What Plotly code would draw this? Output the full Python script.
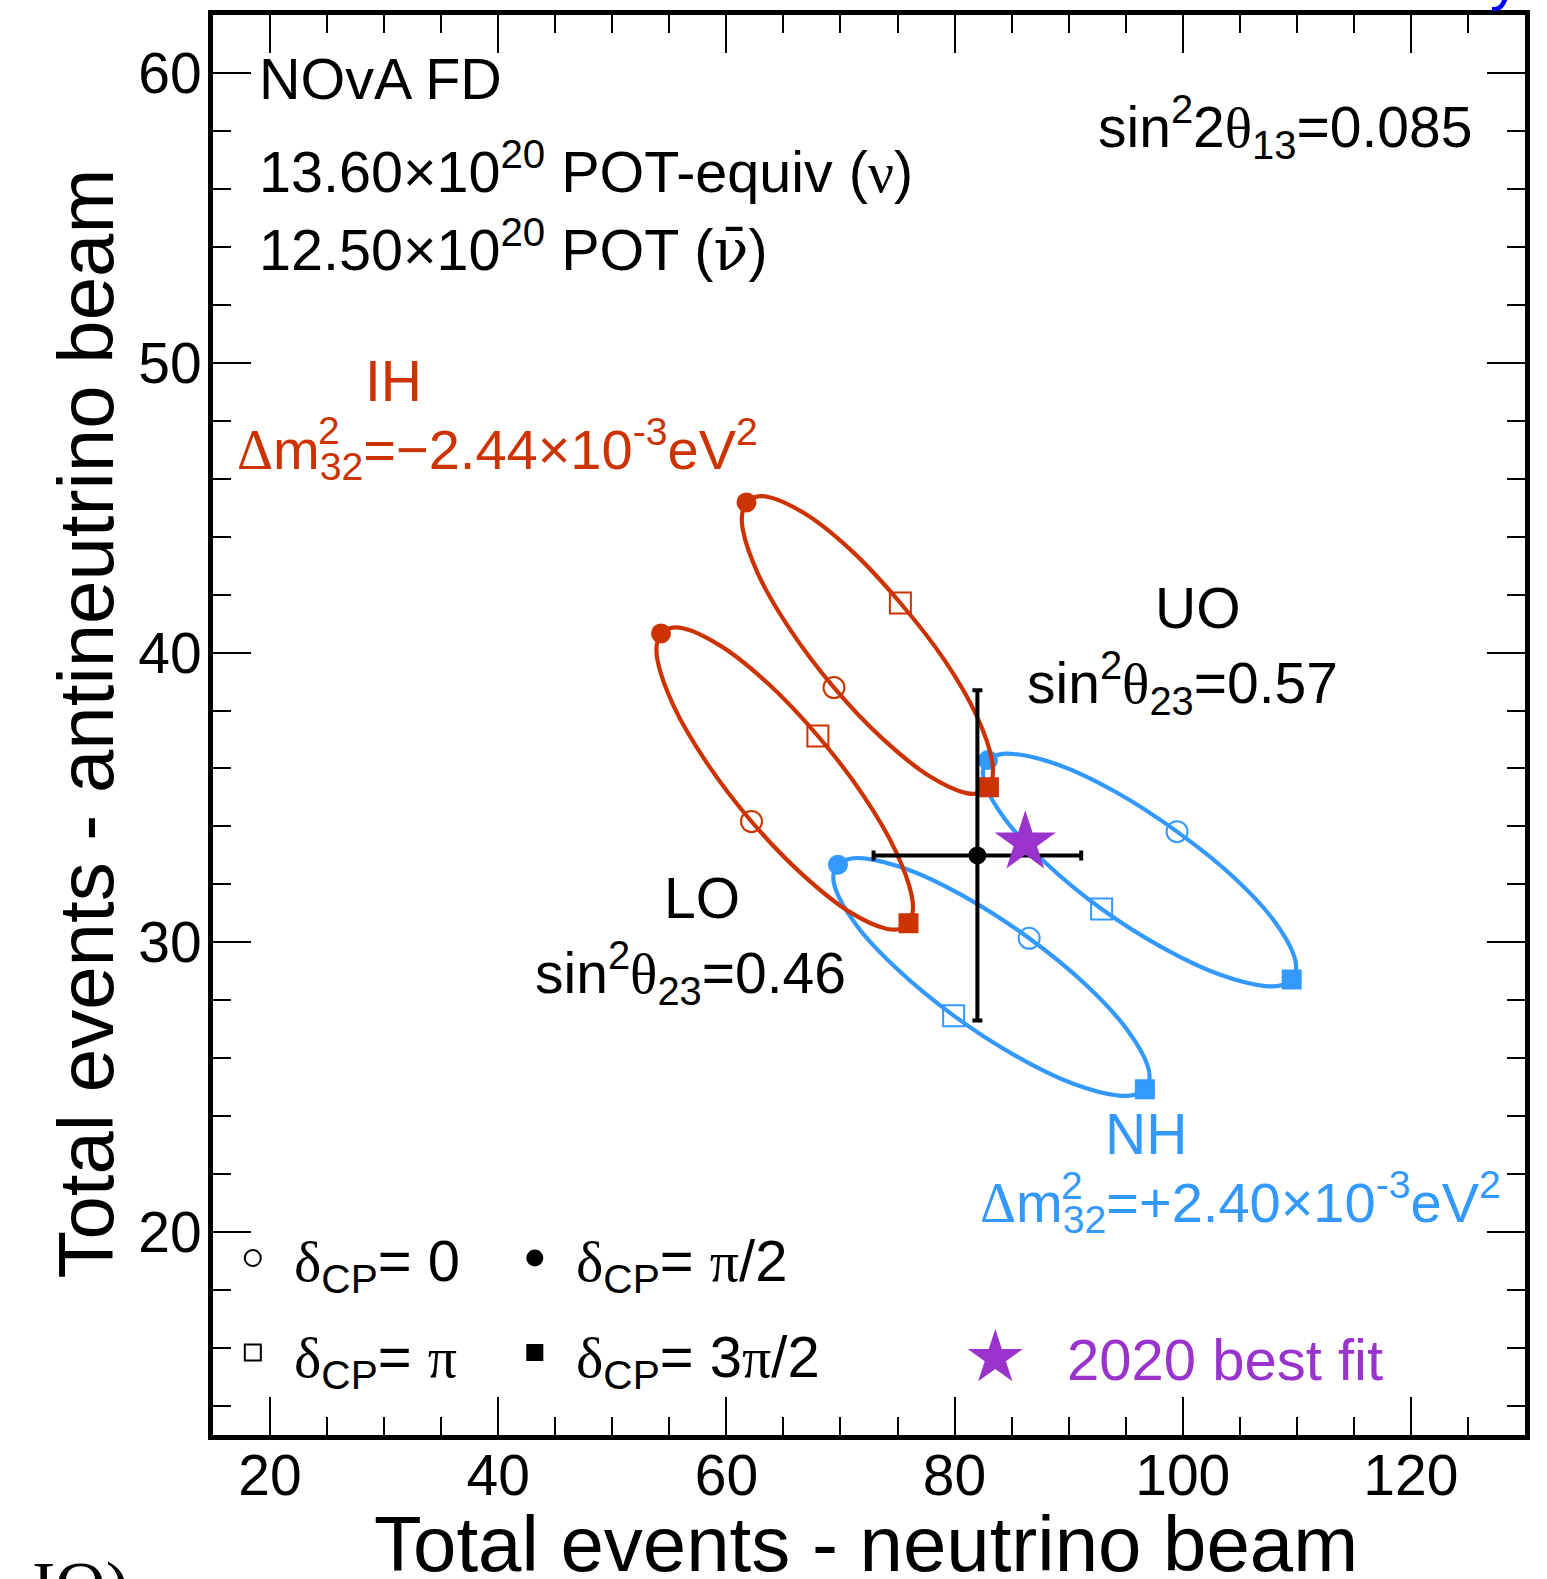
import plotly.graph_objects as go

# ---------------- data ----------------
# delta_CP values at which markers are drawn (order used in all *_pts lists)
delta_cp = ["0", "π/2", "π", "3π/2"]

# NH, lower octant (sin^2 th23 = 0.46) ellipse, traced round from delta_CP = 0
nh_lo_curve_x = [86.54, 81.14, 76.06, 72.07, 70.68, 69.78, 69.39, 69.53, 71.38, 75.02, 79.92,
                 85.32, 90.40, 94.39, 95.78, 96.68, 97.07, 96.93, 95.08, 91.44, 86.54]
nh_lo_curve_y = [30.14, 31.52, 32.49, 32.90, 32.87, 32.68, 32.35, 31.88, 30.60, 29.06, 27.47,
                 26.09, 25.12, 24.71, 24.74, 24.93, 25.26, 25.74, 27.01, 28.56, 30.14]
nh_lo_pts_x = [86.54, 69.78, 79.92, 96.68]
nh_lo_pts_y = [30.14, 32.68, 27.47, 24.93]

# NH, upper octant (sin^2 th23 = 0.57) ellipse
nh_uo_curve_x = [99.50, 94.17, 89.14, 85.18, 83.80, 82.92, 82.51, 82.65, 84.46, 88.06, 92.89,
                 98.26, 103.29, 107.25, 108.63, 109.55, 109.92, 109.78, 107.97, 104.37, 99.50]
nh_uo_curve_y = [33.82, 35.18, 36.12, 36.50, 36.47, 36.29, 35.95, 35.48, 34.23, 32.71, 31.15,
                 29.81, 28.88, 28.49, 28.52, 28.72, 29.04, 29.51, 30.76, 32.28, 33.82]
nh_uo_pts_x = [99.50, 82.92, 92.89, 109.55]
nh_uo_pts_y = [33.82, 36.29, 31.15, 28.72]

# IH, lower octant ellipse
ih_lo_curve_x = [62.20, 58.27, 55.39, 53.97, 53.90, 54.27, 55.04, 56.20, 59.50, 63.65, 68.02,
                 71.95, 74.83, 76.25, 76.32, 75.96, 75.18, 74.02, 70.72, 66.58, 62.20]
ih_lo_curve_y = [34.17, 36.20, 38.14, 39.71, 40.27, 40.66, 40.84, 40.84, 40.23, 38.93, 37.12,
                 35.10, 33.16, 31.60, 31.03, 30.66, 30.46, 30.47, 31.07, 32.37, 34.17]
ih_lo_pts_x = [62.20, 54.27, 68.02, 75.96]
ih_lo_pts_y = [34.17, 40.66, 37.12, 30.66]

# IH, upper octant ellipse
ih_uo_curve_x = [69.43, 65.59, 62.79, 61.44, 61.39, 61.76, 62.53, 63.69, 66.94, 71.01, 75.25,
                 79.13, 81.93, 83.28, 83.33, 83.01, 82.19, 81.03, 77.78, 73.71, 69.43]
ih_uo_curve_y = [38.79, 40.79, 42.70, 44.24, 44.80, 45.18, 45.37, 45.37, 44.78, 43.50, 41.71,
                 39.73, 37.82, 36.28, 35.72, 35.35, 35.15, 35.15, 35.74, 37.02, 38.79]
ih_uo_pts_x = [69.43, 61.76, 75.25, 83.01]
ih_uo_pts_y = [38.79, 45.18, 41.71, 35.35]

# observed data and 2020 best fit
data_x = [82.0]
data_y = [33.0]
data_err_x = [9.1]
data_err_y = [5.7]
bestfit_x = [86.2]
bestfit_y = [33.45]

x_ticks = [20, 40, 60, 80, 100, 120]
y_ticks = [20, 30, 40, 50, 60]

# ---------------- style ----------------
RED = "#CC3300"
BLUE = "#3399FF"
PURPLE = "#9933CC"
SANS = "Liberation Sans, Arial, sans-serif"
SERIF_SPAN = "<span style=\"font-family:'Liberation Serif'\">{}</span>"
marker_symbols = ["circle-open", "circle", "square-open", "square"]
marker_sizes = [21, 18, 21, 18]

fig = go.Figure()

ellipses = [
    (nh_lo_curve_x, nh_lo_curve_y, nh_lo_pts_x, nh_lo_pts_y, BLUE),
    (nh_uo_curve_x, nh_uo_curve_y, nh_uo_pts_x, nh_uo_pts_y, BLUE),
    (ih_lo_curve_x, ih_lo_curve_y, ih_lo_pts_x, ih_lo_pts_y, RED),
    (ih_uo_curve_x, ih_uo_curve_y, ih_uo_pts_x, ih_uo_pts_y, RED),
]
for cx, cy, mx, my, col in ellipses:
    fig.add_trace(go.Scatter(x=cx, y=cy, mode="lines",
                             line=dict(color=col, width=4.2, shape="spline", smoothing=1),
                             hoverinfo="skip", showlegend=False))
    fig.add_trace(go.Scatter(x=mx, y=my, mode="markers", text=delta_cp,
                             marker=dict(symbol=marker_symbols, size=marker_sizes, color=col,
                                         opacity=1, line=dict(color=col, width=2)),
                             showlegend=False))

fig.add_trace(go.Scatter(x=data_x, y=data_y, mode="markers",
                         marker=dict(color="black", size=18, opacity=1),
                         error_x=dict(type="data", array=data_err_x, color="black", thickness=4, width=5),
                         error_y=dict(type="data", array=data_err_y, color="black", thickness=4, width=5),
                         showlegend=False))
fig.add_trace(go.Scatter(x=bestfit_x, y=bestfit_y, mode="markers",
                         marker=dict(symbol="star", size=46, color=PURPLE, opacity=1, line=dict(width=0)),
                         showlegend=False))

# ---------------- layout ----------------
PL, PR, PT, PB = 213.0, 1525.0, 15.0, 1435.0
W, H = 1547, 1579


def fx(px):
    return (px - PL) / (PR - PL)


def fy(py):
    return (PB - py) / (PB - PT)


ASC = 0.905
SUP_TOP = 0.42 + 0.7 * 0.905


def label(text, x, base, size=57, color="black", anchor="left", sup=False, family=SANS):
    top = base - (SUP_TOP if sup else ASC) * size - 1
    fig.add_annotation(text=text, x=fx(x), y=fy(top), xref="paper", yref="paper",
                       xanchor=anchor, yanchor="top", showarrow=False, align="left",
                       font=dict(size=size, color=color, family=family))


nu = SERIF_SPAN.format("ν")
nubar = "<span style=\"font-family:'DejaVu Serif'\">ν\u0304</span>"
theta = SERIF_SPAN.format("θ")
Delta = SERIF_SPAN.format("Δ")
delta = SERIF_SPAN.format("δ")
pi = SERIF_SPAN.format("π")

label("NOvA FD", 257, 97.7, size=57.5)
label("13.60×10<sup>20</sup> POT-equiv (" + nu + ")", 257, 191.4, size=57.5, sup=True)
label("12.50×10<sup>20</sup> POT (" + nubar + ")", 257, 270, size=57.5, sup=True)
label("sin<sup>2</sup>2" + theta + "<sub>13</sub>=0.085", 1474, 146, anchor="right", sup=True)

label("IH", 363, 400, color=RED)
label(Delta + "m<sub>32</sub>=−2.44×10<sup>-3</sup>eV<sup>2</sup>", 235, 468, size=56, color=RED, sup=True)
label("2", 316, 443, size=39, color=RED)

label("UO", 1153, 627)
label("sin<sup>2</sup>" + theta + "<sub>23</sub>=0.57", 1025, 702, sup=True)
label("LO", 662, 917)
label("sin<sup>2</sup>" + theta + "<sub>23</sub>=0.46", 533, 992, sup=True)

label("NH", 1103, 1153, color=BLUE)
label(Delta + "m<sub>32</sub>=+2.40×10<sup>-3</sup>eV<sup>2</sup>", 978, 1221, size=56, color=BLUE, sup=True)
label("2", 1059, 1198, size=39, color=BLUE)

# legend (drawn by hand, as in the original)
label(delta + "<sub>CP</sub>= 0", 292, 1279, size=58)
label(delta + "<sub>CP</sub>= " + pi + "/2", 574, 1279, size=58)
label(delta + "<sub>CP</sub>= " + pi, 292, 1375, size=58)
label(delta + "<sub>CP</sub>= 3" + pi + "/2", 574, 1375, size=58)
label("2020 best fit", 1065, 1378, size=58, color=PURPLE)

for cxp, cyp, kind, filled, r in [(252.8, 1258, "circle", False, 8), (534.8, 1258, "circle", True, 7.5),
                                   (252.8, 1352.6, "rect", False, 8), (534.8, 1352.6, "rect", True, 7.5)]:
    fig.add_shape(type=kind, xref="paper", yref="paper",
                  x0=fx(cxp - r), x1=fx(cxp + r), y0=fy(cyp + r), y1=fy(cyp - r),
                  line=dict(color="black", width=2),
                  fillcolor="black" if filled else "rgba(0,0,0,0)", layer="above")

fig.add_annotation(text="★", x=fx(995), y=fy(1356), xref="paper", yref="paper",
                   xanchor="center", yanchor="middle", showarrow=False,
                   font=dict(size=72, color=PURPLE, family="DejaVu Sans"))

# axis titles
fig.add_annotation(text="Total events - neutrino beam", x=fx(866), y=fy(1570 - ASC * 78 - 1),
                   xref="paper", yref="paper", xanchor="center", yanchor="top", showarrow=False,
                   font=dict(size=78, color="black", family=SANS))
fig.add_annotation(text="Total events - antineutrino beam", x=fx(85.6), y=fy(724),
                   xref="paper", yref="paper", xanchor="center", yanchor="middle", showarrow=False,
                   textangle=-90, font=dict(size=78, color="black", family=SANS))

# cropped texts at the image edges
fig.add_annotation(text="Preliminary", x=fx(1522), y=fy(13.5), xref="paper", yref="paper",
                   xanchor="right", yanchor="bottom", showarrow=False,
                   font=dict(size=60, color="#0000FF", family=SANS))
fig.add_annotation(text="IO)", x=fx(131), y=fy(1546), xref="paper", yref="paper",
                   xanchor="right", yanchor="top", showarrow=False,
                   font=dict(size=70, color="black", family="Liberation Serif"))

axis_common = dict(showline=True, linewidth=5, linecolor="black", mirror="allticks",
                   ticks="inside", ticklen=38, tickwidth=2, tickcolor="black",
                   showgrid=False, zeroline=False,
                   tickfont=dict(size=57, color="black", family=SANS))

fig.update_xaxes(range=[15, 130], tickmode="array", tickvals=x_ticks,
                 ticktext=[str(v) for v in x_ticks], ticklabelstandoff=-13,
                 minor=dict(dtick=5, tick0=0, ticks="inside", ticklen=18, tickwidth=2,
                            tickcolor="black", showgrid=False),
                 **axis_common)
fig.update_yaxes(range=[13, 62], tickmode="array", tickvals=y_ticks,
                 ticktext=[str(v) for v in y_ticks], ticklabelstandoff=-5,
                 minor=dict(dtick=2, tick0=0, ticks="inside", ticklen=18, tickwidth=2,
                            tickcolor="black", showgrid=False),
                 **axis_common)

fig.update_layout(width=W, height=H,
                  margin=dict(l=PL, r=W - PR, t=PT, b=H - PB, autoexpand=False),
                  paper_bgcolor="white", plot_bgcolor="white", showlegend=False,
                  font=dict(family=SANS, color="black"))

fig.write_html("out.html", config={"displayModeBar": False},
               post_script="document.body.style.margin='0px';")
